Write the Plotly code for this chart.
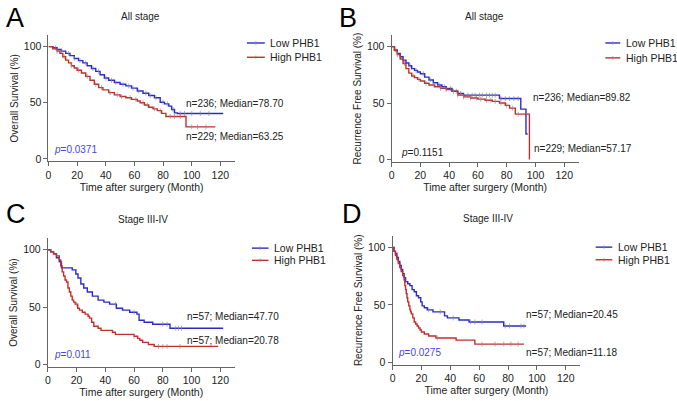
"""plot.py - Kaplan-Meier curves, PHB1 low vs high"""

import numpy as np
import plotly.graph_objects as go

# ---- data ----
# A: overall survival, all stage
a_low_t = [0, 3, 6, 9, 12, 15, 18, 21, 24, 27, 30, 33, 36, 39, 42, 46, 50, 54, 58, 62, 66, 70, 74, 78, 81, 84, 86, 88, 90, 122]
a_low_s = [100, 99, 97.5, 96, 94, 92, 89.5, 87.5, 85.5, 83, 80.5, 78, 75, 72, 70, 68, 66.5, 65, 63, 60.5, 58.5, 56.5, 54.5, 50.5, 49, 47, 44, 41, 40.4, 40.4]
a_high_t = [0, 3, 6, 8, 10, 12, 14, 16, 18, 20, 23, 26, 29, 32, 35, 38, 42, 46, 50, 54, 58, 62, 64, 67, 70, 73, 76, 79, 82, 96, 116.5]
a_high_s = [100, 98, 96, 94, 91, 88, 85.5, 83, 81, 79, 76.5, 73.5, 70, 66.5, 63.5, 61.5, 59, 57, 55.5, 54.5, 53, 51.5, 50, 48, 46, 44.5, 43, 40.5, 37.8, 28.5, 28.5]
a_low_cens = [5, 9, 14, 18, 22, 26, 31, 35, 40, 44, 47, 52, 56, 59, 63, 68, 71, 75, 80, 83, 87, 92, 95, 100, 106, 112]
a_high_cens = [6, 11, 16, 21, 27, 33, 37, 43, 48, 51, 57, 61, 66, 69, 74, 78, 85, 88, 92, 100, 104, 110]

# B: recurrence free survival, all stage
b_low_t = [0, 2, 4, 6, 8, 10, 12, 14, 16, 18, 20, 23, 26, 29, 32, 35, 38, 42, 46, 50, 75, 89.8, 93.4, 94.6]
b_low_s = [100, 97, 94, 91, 88, 85.5, 83, 80.5, 79, 77.5, 76, 73, 70.5, 68, 66, 64.5, 63, 60.5, 58.5, 57, 54, 44.6, 22.6, 22.6]
b_high_t = [0, 2, 4, 6, 8, 10, 12, 14, 16, 18, 20, 23, 26, 30, 34, 38, 42, 46, 50, 55, 60, 65, 70, 75, 79, 82, 86, 95.8]
b_high_s = [100, 96.5, 93, 89, 85, 80.5, 76.5, 74, 72.5, 71, 69.5, 67.5, 66, 64.5, 63, 62, 60.5, 57, 55.5, 54.5, 53.5, 52.5, 51.5, 50, 48, 45.5, 40.2, 0]
b_low_cens = [3, 8, 13, 17, 22, 27, 33, 37, 41, 45, 48, 53, 56, 58, 61, 63, 66, 68, 70, 72, 76, 79, 82, 85, 88]
b_high_cens = [4, 9, 15, 19, 24, 29, 34, 38, 43, 46, 50, 55, 59, 62, 66, 69, 72, 76, 80, 84, 88]

# C: overall survival, stage III-IV
c_low_t = [0, 2, 4, 6, 8, 9.5, 17, 19.5, 21, 23, 25, 27.5, 31, 35, 39, 43, 47.7, 52, 57, 62, 63.5, 67, 73, 85, 122]
c_low_s = [100, 98.2, 96.5, 93, 89.5, 84.2, 82.5, 78.9, 75.4, 70.2, 66.7, 63.2, 59.6, 56.1, 54.4, 52.6, 49.1, 47.4, 45.6, 43.9, 38.6, 36.8, 35.1, 31.6, 31.6]
c_high_t = [0, 2, 4, 6, 8, 9, 10, 11, 12, 13, 14, 15, 16, 17, 18, 19, 20.8, 22, 24, 26, 28, 29, 30.5, 32, 35, 37, 45, 47, 60, 62.5, 64, 66, 70, 74, 118.5]
c_high_s = [100, 98.2, 96.5, 94.7, 91.2, 86, 80.7, 77.2, 73.7, 71.9, 66.7, 63.2, 59.6, 56.1, 54.4, 52.6, 49.1, 47.4, 45.6, 43.9, 42.1, 40.4, 36.8, 33.3, 31.6, 29.8, 28.1, 26.3, 24.6, 22.8, 21.1, 19.3, 17.5, 15.8, 15.8]
c_low_cens = [47, 60, 80, 83, 89, 91, 93]
c_high_cens = [20, 60, 77, 80, 83, 92]

# D: recurrence free survival, stage III-IV
d_low_t = [0, 1, 2, 3, 4, 5, 6, 7, 8, 9, 10.5, 12, 13.5, 15, 16.5, 18, 19.5, 20.5, 22, 24, 28, 36, 38, 46, 53, 77, 92.5]
d_low_s = [100, 96.5, 94.7, 91.2, 87.7, 84.2, 80.7, 77.2, 73.7, 70.2, 68.4, 66.7, 63.2, 61.4, 57.9, 56.1, 52.6, 49.1, 47.4, 45.6, 43.9, 40.4, 38.6, 36.8, 35.1, 31.6, 31.6]
d_high_t = [0, 1, 2, 3, 4, 5, 6, 7, 8, 8.5, 9, 9.5, 10, 10.5, 11.2, 12, 12.5, 13, 14, 15, 16, 17, 18, 19, 20, 22, 25, 30, 44, 57, 91]
d_high_s = [100, 96.5, 93, 89.5, 86, 82.5, 78.9, 75.4, 71.9, 66.7, 63.2, 59.6, 56.1, 52.6, 49.1, 45.6, 43.9, 42.1, 38.6, 35.1, 33.3, 31.6, 29.8, 28.1, 26.3, 24.6, 22.8, 21.1, 19.3, 15.8, 15.8]
d_low_cens = [25, 33, 42, 54, 57, 62, 78, 81, 89, 91]
d_high_cens = [31, 62, 71, 77, 82, 87]

panel_letters = ['A', 'B', 'C', 'D']
panel_titles = ['All stage', 'All stage', 'Stage III-IV', 'Stage III-IV']
y_titles = ['Overall Survival (%)', 'Recurrence Free Survival (%)',
            'Overall Survival (%)', 'Recurrence Free Survival (%)']
low_notes = ['n=236; Median=78.70', 'n=236; Median=89.82', 'n=57; Median=47.70', 'n=57; Median=20.45']
high_notes = ['n=229; Median=63.25', 'n=229; Median=57.17', 'n=57; Median=20.78', 'n=57; Median=11.18']
p_values = ['0.0371', '0.1151', '0.011', '0.0275']
p_colors = ['#4646e6', '#222222', '#4646e6', '#4646e6']
x_ticks = [0, 20, 40, 60, 80, 100, 120]
y_ticks = [0, 50, 100]

series = [
    (a_low_t, a_low_s, a_low_cens, a_high_t, a_high_s, a_high_cens),
    (b_low_t, b_low_s, b_low_cens, b_high_t, b_high_s, b_high_cens),
    (c_low_t, c_low_s, c_low_cens, c_high_t, c_high_s, c_high_cens),
    (d_low_t, d_low_s, d_low_cens, d_high_t, d_high_s, d_high_cens),
]

# ---- layout (pixel positions in a 677x401 page) ----
W, H = 677, 401
BLUE = '#2b2bcc'
RED = '#c0302b'
TICKCOL = 'rgba(140,140,140,0.7)'
FONT = 'Arial, Liberation Sans, sans-serif'
TXT = '#222222'

def px(x):
    return x / W

def py(y):
    return 1 - y / H

# x domain, y domain (pixels), letter pos, title pos, legend (x0, x1, y_low, y_high, text x),
# low note (x, y), high note (x, y), p (x, y)
geom = [
    dict(xd=(45.7, 232.7), yd=(162.3, 35.7), letter=(1, 18), title=(138, 17),
         leg=(245, 263, 43.3, 57.7, 266), low=(181.7, 104.3), high=(181.7, 137.7), p=(49, 151)),
    dict(xd=(390.3, 578.2), yd=(163.0, 35.6), letter=(335, 18), title=(483.7, 17),
         leg=(605, 620, 43.3, 58.3, 623.5), low=(530.3, 98.3), high=(531, 150), p=(397.5, 154)),
    dict(xd=(45.0, 232.7), yd=(369.6, 240.1), letter=(1, 216), title=(140.7, 220.7),
         leg=(250, 266.7, 250, 262.3, 270.5), low=(182.7, 319), high=(182.7, 343.3), p=(49, 356.7)),
    dict(xd=(391.3, 579.8), yd=(367.3, 237.7), letter=(338, 216), title=(487, 220),
         leg=(595.3, 612, 249, 261.7, 616), low=(523.7, 316.7), high=(523.7, 355), p=(395, 355)),
]


def step_value(t, s, c):
    """survival value at censor time c on a right-continuous step curve"""
    idx = np.searchsorted(np.asarray(t), c, side='right') - 1
    return np.asarray(s)[idx]


fig = go.Figure()
annotations = []
shapes = []

for i, (lt, ls, lc, ht, hs, hc) in enumerate(series):
    g = geom[i]
    k = '' if i == 0 else str(i + 1)
    xa, ya = 'x' + k, 'y' + k

    for t, s, cens, col in [(lt, ls, lc, BLUE), (ht, hs, hc, RED)]:
        fig.add_trace(go.Scatter(x=t, y=s, mode='lines', line=dict(color=col, width=1.4, shape='hv'),
                                 xaxis=xa, yaxis=ya, showlegend=False, hoverinfo='skip'))
        fig.add_trace(go.Scatter(x=cens, y=step_value(t, s, cens), mode='markers',
                                 marker=dict(symbol='line-ns', size=3.5,
                                             line=dict(color=TICKCOL, width=1)),
                                 xaxis=xa, yaxis=ya, showlegend=False, hoverinfo='skip'))

    axis_common = dict(showline=True, linecolor='#666666', linewidth=1, ticks='outside',
                       ticklen=4, tickcolor='#666666', showgrid=False, zeroline=False,
                       tickfont=dict(family=FONT, size=10.5, color=TXT))
    fig.update_layout(**{
        'xaxis' + k: dict(axis_common, domain=[px(g['xd'][0]), px(g['xd'][1])], range=[0, 130],
                          tickvals=x_ticks, anchor=ya,
                          title=dict(text='Time after surgery (Month)', standoff=2,
                                     font=dict(family=FONT, size=10.5, color=TXT))),
        'yaxis' + k: dict(axis_common, domain=[py(g['yd'][0]), py(g['yd'][1])], range=[-2, 110],
                          tickvals=y_ticks, anchor=xa,
                          title=dict(text=y_titles[i], standoff=3,
                                     font=dict(family=FONT, size=10, color=TXT))),
    })

    # panel letter and title
    annotations.append(dict(x=px(g['letter'][0]), y=py(g['letter'][1]), xref='paper', yref='paper',
                            text=panel_letters[i], showarrow=False, xanchor='left', yanchor='middle',
                            font=dict(family=FONT, size=27, color='#000000')))
    annotations.append(dict(x=px(g['title'][0]), y=py(g['title'][1]), xref='paper', yref='paper',
                            text=panel_titles[i], showarrow=False, xanchor='center', yanchor='middle',
                            font=dict(family=FONT, size=10, color=TXT)))

    # legend drawn by hand (short Prism style samples)
    x0, x1, yl, yh, tx = g['leg']
    for yy, col, name in [(yl, BLUE, 'Low PHB1'), (yh, RED, 'High PHB1')]:
        shapes.append(dict(type='line', xref='paper', yref='paper', x0=px(x0), x1=px(x1),
                           y0=py(yy), y1=py(yy), line=dict(color=col, width=1.4)))
        xm = (x0 + x1) / 2
        shapes.append(dict(type='line', xref='paper', yref='paper', x0=px(xm), x1=px(xm),
                           y0=py(yy - 1.8), y1=py(yy + 1.8), line=dict(color=TICKCOL, width=1)))
        annotations.append(dict(x=px(tx), y=py(yy), xref='paper', yref='paper', text=name,
                                showarrow=False, xanchor='left', yanchor='middle',
                                font=dict(family=FONT, size=10.5, color=TXT)))

    # n / median notes and p value
    for pos, txt in [(g['low'], low_notes[i]), (g['high'], high_notes[i])]:
        annotations.append(dict(x=px(pos[0]), y=py(pos[1]), xref='paper', yref='paper', text=txt,
                                showarrow=False, xanchor='left', yanchor='middle',
                                font=dict(family=FONT, size=10, color=TXT)))
    annotations.append(dict(x=px(g['p'][0]), y=py(g['p'][1]), xref='paper', yref='paper',
                            text='<i>p</i>=' + p_values[i], showarrow=False, xanchor='left',
                            yanchor='middle', font=dict(family=FONT, size=10, color=p_colors[i])))

fig.update_layout(width=W, height=H, margin=dict(l=0, r=0, t=0, b=0),
                  paper_bgcolor='white', plot_bgcolor='white',
                  annotations=annotations, shapes=shapes, showlegend=False)

# the page's default 8px body margin would push the figure off the window
fig.write_html("out.html", config={'displayModeBar': False},
               post_script="document.body.style.margin='0';")
